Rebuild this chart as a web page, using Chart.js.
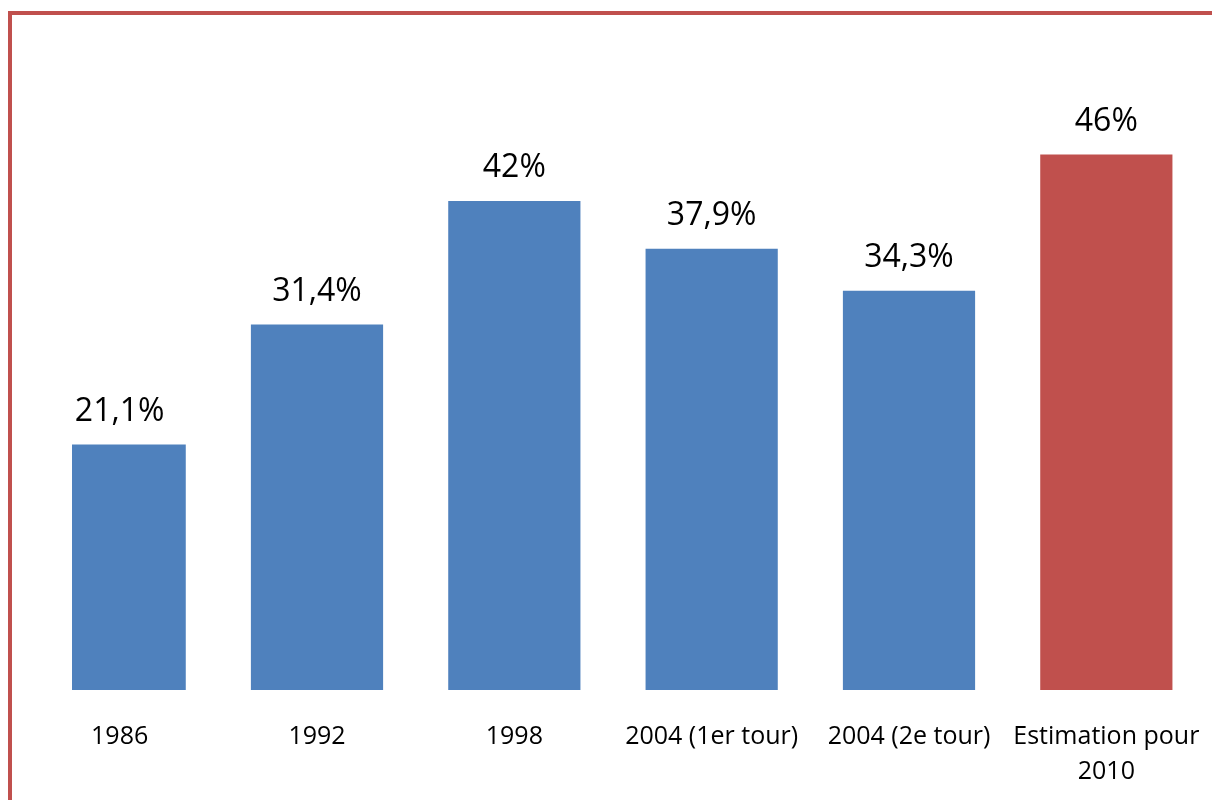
<!DOCTYPE html>
<html>
<head>
<meta charset="utf-8">
<script src="https://cdn.jsdelivr.net/npm/chart.js@4"></script>
<style>
    html, body { margin: 0; padding: 0; background: #fff; }
    #wrap { position: relative; width: 1212px; height: 800px; overflow: hidden; }
    #frame { position: absolute; left: 8px; top: 11px; width: 1300px; height: 900px;
             border-top: 4px solid #C0504D; border-left: 4px solid #C0504D; }
    #chart { position: absolute; left: 0; top: 0; }
</style>
</head>
<body>
<div id="wrap">
    <div id="frame"></div>
    <canvas id="chart" width="1212" height="800"></canvas>
</div>
<script>
    const categories = ['1986', '1992', '1998', '2004 (1er tour)', '2004 (2e tour)', ['Estimation pour', '2010']];
    const values = [21.1, 31.4, 42, 37.9, 34.3, 46];
    const barColors = ['#4F81BD', '#4F81BD', '#4F81BD', '#4F81BD', '#4F81BD', '#C0504D'];

    //  labels above bars
    const valueLabels = {
        id: 'valueLabels',
        afterDatasetsDraw(chart) {
            const ctx = chart.ctx;
            const meta = chart.getDatasetMeta(0);
            ctx.save();
            ctx.font = '32px "Open Sans"';
            ctx.fillStyle = '#000';
            ctx.textAlign = 'center';
            ctx.textBaseline = 'middle';
            meta.data.forEach((bar, i) => {
                const txt = String(values[i]).replace('.', ',') + '%';
                ctx.fillText(txt, bar.x, bar.y - 33);
            });
            ctx.restore();
        }
    };

    new Chart(document.getElementById('chart'), {
        type: 'bar',
        data: {
            labels: categories,
            datasets: [{
                data: values,
                backgroundColor: barColors,
                borderWidth: 0,
                barPercentage: 0.67,
                categoryPercentage: 1,
                clip: { left: -51, top: false, right: false, bottom: false }
            }]
        },
        options: {
            responsive: false,
            animation: false,
            layout: { padding: { left: 21, right: 7, top: 108, bottom: 0 } },
            plugins: {
                legend: { display: false },
                tooltip: { enabled: false }
            },
            scales: {
                x: {
                    grid: { display: false, drawTicks: false },
                    border: { display: false },
                    ticks: {
                        color: '#000',
                        padding: 29,
                        maxRotation: 0,
                        autoSkip: false,
                        font: { family: 'Open Sans', size: 25, lineHeight: 1.4 }
                    },
                    afterFit: s => {
                        s.height = 110;
                        s.paddingLeft = 0;
                        s.paddingRight = 0;
                    }
                },
                y: {
                    display: false,
                    min: 0,
                    max: 50
                }
            }
        },
        plugins: [valueLabels]
    });
</script>
</body>
</html>
